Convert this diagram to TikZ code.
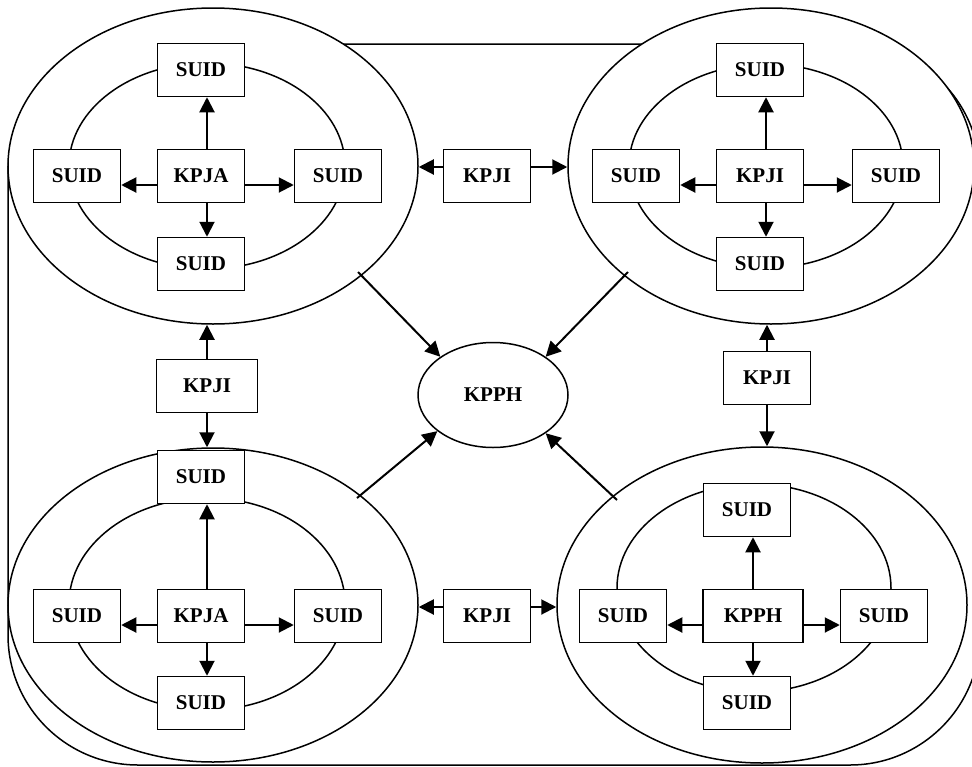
\documentclass[tikz,border=0pt]{standalone}
\usepackage{fontspec}
\setmainfont{Liberation Serif}
\usepackage{tikz}
\usetikzlibrary{arrows.meta}
\usetikzlibrary{shapes}

\tikzset{
	box/.style={draw, line width=1.5pt, fill=white, minimum width=87pt, minimum height=53pt, inner sep=0pt, font=\bfseries\fontsize{21}{25}\selectfont},
	ring/.style={draw, ellipse, line width=1.5pt, fill=white, inner sep=0pt},
	arr/.style={-{Triangle[length=15pt,width=15pt]}, line width=2pt}
}

\begin{document}
\begin{tikzpicture}[x=1pt,y=-1pt]
			\useasboundingbox (0,0) rectangle (972,766);
			\clip (0,0) rectangle (972,766);
			\draw[line width=1.5pt, rounded corners=130pt] (8,44) rectangle (980,765);

			% top left
			\node[ring, minimum width=410pt, minimum height=316pt] (tlo) at (213,166) {};
			\node[ring, minimum width=276pt, minimum height=206pt] (tli) at (207,166) {};
			\node[box] (tlc) at (201,176) {KPJA};
			\node[box] (tln) at (201,70) {SUID};
			\node[box] (tls) at (201,264) {SUID};
			\node[box] (tlw) at (77,176) {SUID};
			\node[box] (tle) at (338,176) {SUID};

			% top right
			\node[ring, minimum width=406pt, minimum height=316pt] (tro) at (771,166) {};
			\node[ring, minimum width=274pt, minimum height=204pt] (tri) at (766,166) {};
			\node[box] (trc) at (760,176) {KPJI};
			\node[box] (trn) at (760,70) {SUID};
			\node[box] (trs) at (760,264) {SUID};
			\node[box] (trw) at (636,176) {SUID};
			\node[box] (tre) at (896,176) {SUID};

			% bottom left
			\node[ring, minimum width=410pt, minimum height=314pt] (blo) at (213,605) {};
			\node[ring, minimum width=276pt, minimum height=212pt] (bli) at (207,604) {};
			\node[box] (blc) at (201,616) {KPJA};
			\node[box] (bln) at (201,477) {SUID};
			\node[box] (bls) at (201,703) {SUID};
			\node[box] (blw) at (77,616) {SUID};
			\node[box] (ble) at (338,616) {SUID};

			% bottom right
			\node[ring, minimum width=410pt, minimum height=316pt] (bro) at (762,605) {};
			\node[ring, minimum width=274pt, minimum height=208pt] (bri) at (754,588) {};
			\node[box, minimum width=100pt] (brc) at (753,616) {KPPH};
			\node[box] (brn) at (747,510) {SUID};
			\node[box] (brs) at (747,703) {SUID};
			\node[box] (brw) at (623,616) {SUID};
			\node[box] (bre) at (884,616) {SUID};

			% links
			\node[box] (kpjit) at (487,176) {KPJI};
			\node[box] (kpjib) at (487,616) {KPJI};
			\node[box, minimum width=101pt] (kpjil) at (207,386) {KPJI};
			\node[box] (kpjir) at (767,378) {KPJI};
			\node[ring, minimum width=150pt, minimum height=105pt, font=\bfseries\fontsize{21}{25}\selectfont] (kpph) at (493,395) {KPPH};

			\foreach \c/\n/\s/\w/\e in {tlc/tln/tls/tlw/tle, trc/trn/trs/trw/tre, blc/bln/bls/blw/ble} {
				\draw[arr] ([xshift=6pt]\c.north) -- ([xshift=6pt]\c.north |- \n.south);
				\draw[arr] ([xshift=6pt]\c.south) -- ([xshift=6pt]\c.south |- \s.north);
				\draw[arr] ([yshift=-9pt]\c.west) -- ([yshift=-9pt]\c.west -| \w.east);
				\draw[arr] ([yshift=-9pt]\c.east) -- ([yshift=-9pt]\c.east -| \e.west);
			}
			\draw[arr] (brc.north) -- (brc.north |- brn.south);
			\draw[arr] (brc.south) -- (brc.south |- brs.north);
			\draw[arr] ([yshift=-9pt]brc.west) -- ([yshift=-9pt]brc.west -| brw.east);
			\draw[arr] ([yshift=-9pt]brc.east) -- ([yshift=-9pt]brc.east -| bre.west);

			\draw[arr] ([yshift=9pt]kpjit.west) -- ([yshift=9pt]kpjit.west -| tlo.east);
			\draw[arr] ([yshift=9pt]kpjit.east) -- ([yshift=9pt]kpjit.east -| tro.west);
			\draw[arr] ([yshift=9pt]kpjib.west) -- ([yshift=9pt]kpjib.west -| blo.east);
			\draw[arr] ([yshift=9pt]kpjib.east) -- ([yshift=9pt]kpjib.east -| bro.west);
			\draw[arr] (kpjil.north) -- (kpjil.north |- tlo.south);
			\draw[arr] (kpjil.south) -- (kpjil.south |- blo.north);
			\draw[arr] (kpjir.north) -- (kpjir.north |- tro.south);
			\draw[arr] (kpjir.south) -- (kpjir.south |- bro.north);

			\coordinate (fromtl) at (358,272);
			\coordinate (fromtr) at (628,272);
			\coordinate (frombl) at (357,498);
			\coordinate (frombr) at (617,500);
			\draw[arr] (fromtl) -- (kpph.144);
			\draw[arr] (fromtr) -- (kpph.36);
			\draw[arr] (frombl) -- (kpph.213);
			\draw[arr] (frombr) -- (kpph.324);
		\end{tikzpicture}
\end{document}
